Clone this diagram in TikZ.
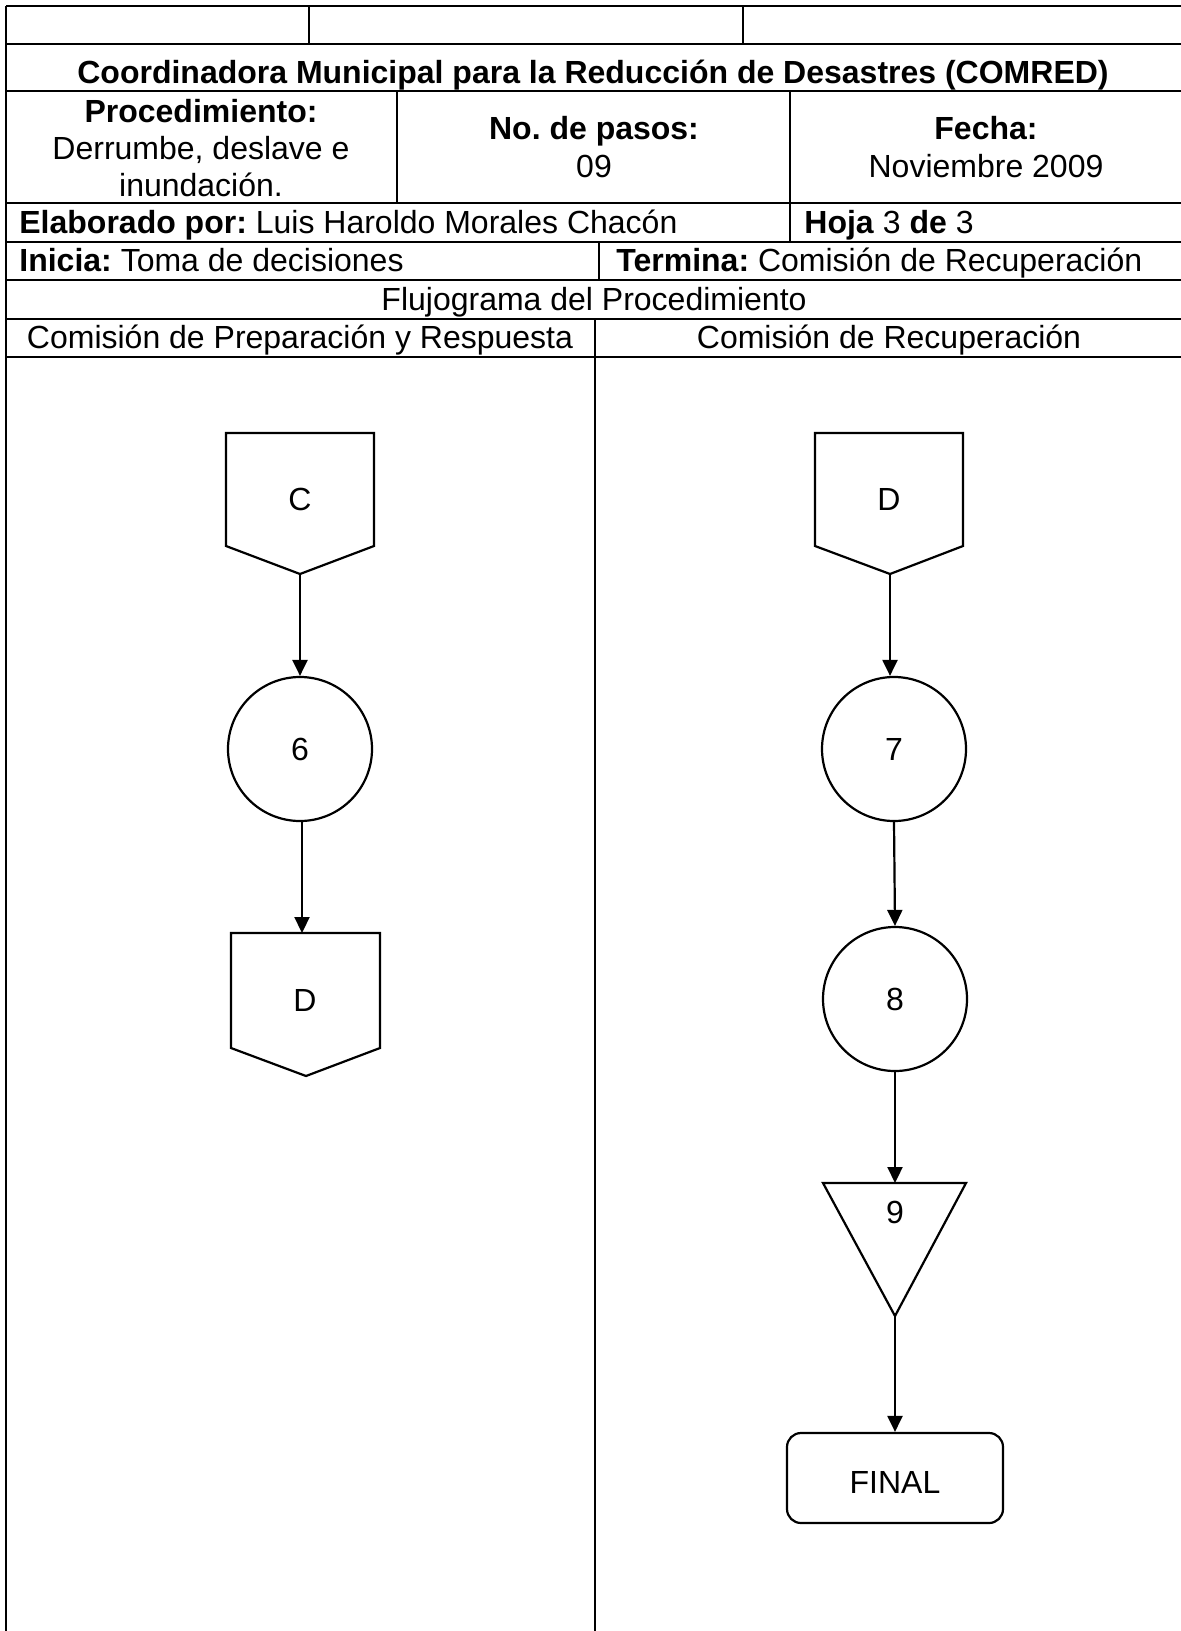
\documentclass[tikz,border=0pt]{standalone}
\usepackage{fontspec}
\setmainfont{Liberation Sans}
\usetikzlibrary{arrows.meta}
\frenchspacing
\begin{document}
\begin{tikzpicture}[x=0.5pt,y=-0.5pt,
  grid/.style={line width=1.3pt},
  shp/.style={line width=1.1pt},
  txt/.style={font=\fontsize{16}{18.7}\selectfont\frenchspacing, inner sep=0pt, align=center},
  btxt/.style={font=\fontsize{16}{18.7}\selectfont\bfseries\frenchspacing, inner sep=0pt, align=center},
  arr/.style={line width=1.1pt, -{Triangle[length=8pt,width=7.5pt]}},
  circ/.style={shp, draw, circle, minimum size=72pt, inner sep=0pt, font=\fontsize{16}{19}\selectfont},
]
\useasboundingbox (0,0) rectangle (1181,1631);

% ---- table grid ----
\foreach \yy in {6,44,91,203,242,280,319,357}
  \draw[grid] (6,\yy) -- (1181,\yy);
\draw[grid] (6,6) -- (6,1631);
\draw[grid] (309,6) -- (309,44);
\draw[grid] (743,6) -- (743,44);
\draw[grid] (397,91) -- (397,203);
\draw[grid] (790,91) -- (790,242);
\draw[grid] (599,242) -- (599,280);
\draw[grid] (595,319) -- (595,1631);

% ---- header texts ----
\node[btxt, anchor=base] (title) at (593,84) {Coordinadora Municipal para la Reducción de Desastres (COMRED)};
\node[txt] (proc) at (201,148) {\textbf{Procedimiento:}\\Derrumbe, deslave e\\inundación.};
\node[txt] (pasos) at (594,147) {\textbf{No. de pasos:}\\09};
\node[txt] (fecha) at (986,147) {\textbf{Fecha:}\\Noviembre 2009};
\node[txt, anchor=base west] (elab) at (19,234) {\textbf{Elaborado por:} Luis Haroldo Morales Chacón};
\node[txt, anchor=base west] (hoja) at (804,234) {\textbf{Hoja} 3 \textbf{de} 3};
\node[txt, anchor=base west] (inicia) at (19,272) {\textbf{Inicia:} Toma de decisiones};
\node[txt, anchor=base west] (termina) at (616,272) {\textbf{Termina:} Comisión de Recuperación};
\node[txt, anchor=base] (flujo) at (594,311) {Flujograma del Procedimiento};
\node[txt, anchor=base] (lane1) at (300,349) {Comisión de Preparación y Respuesta};
\node[txt, anchor=base] (lane2) at (889,349) {Comisión de Recuperación};

% ---- left lane ----
\draw[shp] (226,433) -- (374,433) -- (374,546) -- (300,574) -- (226,546) -- cycle;
\coordinate (cCtip) at (300,574);
\node[txt] (cC) at (300,499) {C};

\node[circ] (n6) at (300,749) {6};

\draw[shp] (231,933) -- (380,933) -- (380,1048) -- (306,1076) -- (231,1048) -- cycle;
\coordinate (dLtop) at (302,933);
\node[txt] (dL) at (305,1000) {D};

\draw[arr] (cCtip) -- (n6.north);
\draw[arr] (n6.south -| dLtop) -- (dLtop);

% ---- right lane ----
\draw[shp] (815,433) -- (963,433) -- (963,546) -- (890,574) -- (815,546) -- cycle;
\coordinate (dRtip) at (890,574);
\node[txt] (dR) at (889,499) {D};

\node[circ] (n7) at (894,749) {7};
\node[circ] (n8) at (895,999) {8};

\draw[shp] (823,1183) -- (966,1183) -- (895,1316) -- cycle;
\coordinate (t9top) at (895,1183);
\coordinate (t9tip) at (895,1316);
\node[txt] (t9) at (895,1212) {9};

\node[shp, draw, rounded corners=7pt, minimum width=108pt, minimum height=45pt] (fin) at (895,1478) {};
\node[txt] (finlbl) at (895,1482) {FINAL};

\draw[arr] (dRtip) -- (dRtip |- n7.north);
\draw[arr] (n7.south) -- (n8.north);
\draw[arr] (n8.south) -- (t9top);
\draw[arr] (t9tip) -- (fin.north);
\end{tikzpicture}
\end{document}
